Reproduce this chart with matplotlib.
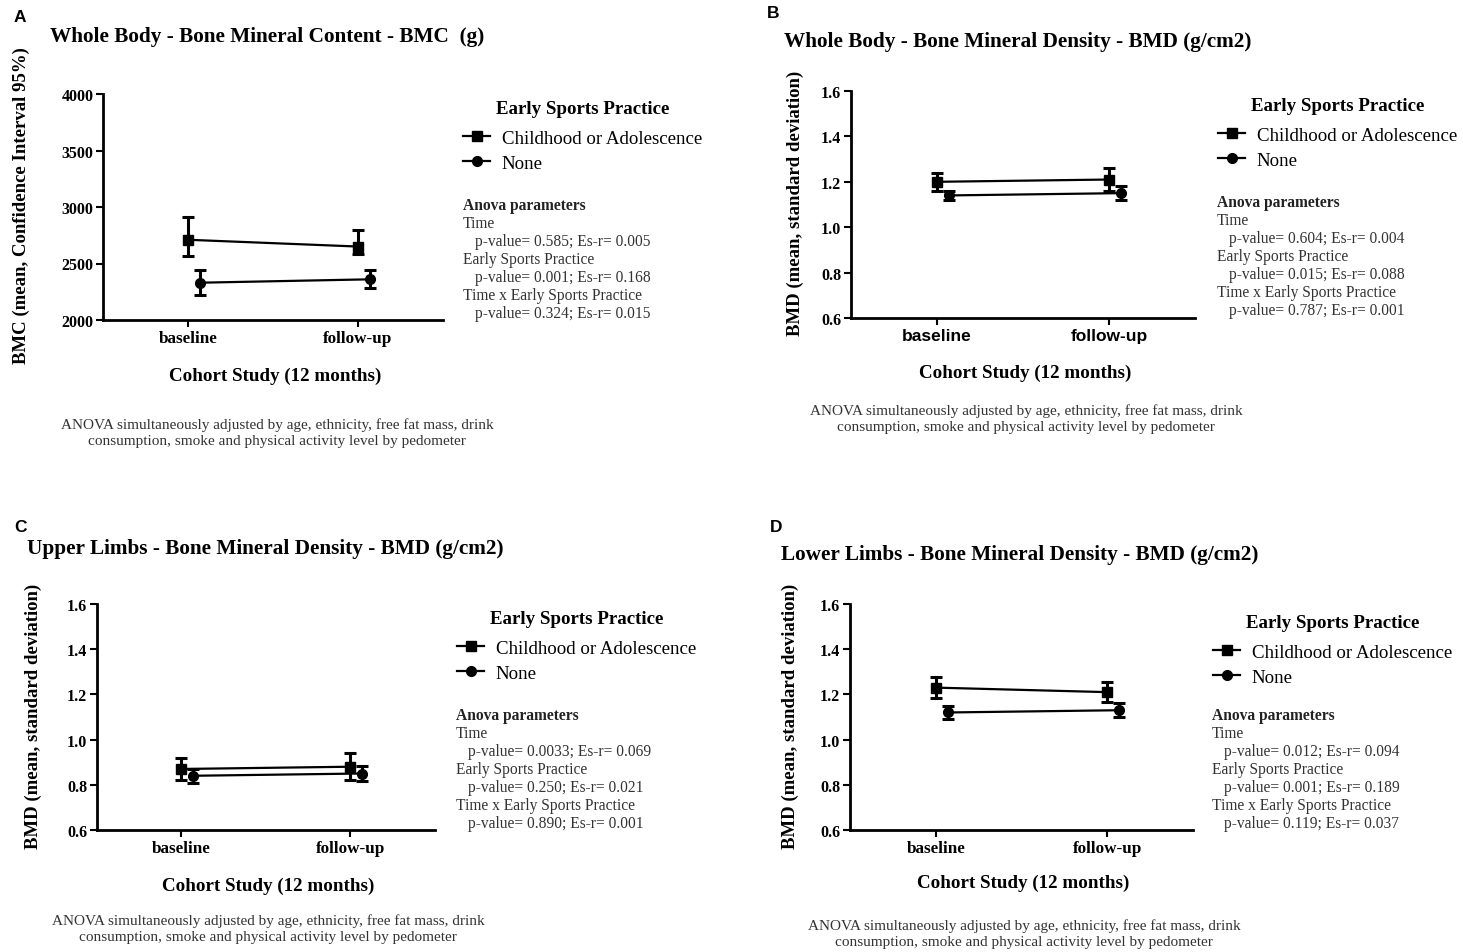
import matplotlib
matplotlib.use("Agg")
import matplotlib.pyplot as plt

# time points on the x axis
timepoints = ['baseline', 'follow-up']
groups = ['Childhood or Adolescence', 'None']

# A - whole body BMC (g): mean and 95% CI bounds
a_child_mean = [2710, 2650]
a_child_lo = [2565, 2580]
a_child_hi = [2915, 2800]
a_none_mean = [2330, 2360]
a_none_lo = [2220, 2280]
a_none_hi = [2440, 2440]

# B - whole body BMD (g/cm2): mean and SD
b_child_mean = [1.20, 1.21]
b_child_sd = [0.04, 0.05]
b_none_mean = [1.14, 1.15]
b_none_sd = [0.02, 0.03]

# C - upper limbs BMD
c_child_mean = [0.87, 0.88]
c_child_sd = [0.05, 0.06]
c_none_mean = [0.84, 0.85]
c_none_sd = [0.03, 0.035]

# D - lower limbs BMD
d_child_mean = [1.23, 1.21]
d_child_sd = [0.045, 0.045]
d_none_mean = [1.12, 1.13]
d_none_sd = [0.03, 0.03]

anova_a = ['p-value= 0.585; Es-r= 0.005', 'p-value= 0.001; Es-r= 0.168', 'p-value= 0.324; Es-r= 0.015']
anova_b = ['p-value= 0.604; Es-r= 0.004', 'p-value= 0.015; Es-r= 0.088', 'p-value= 0.787; Es-r= 0.001']
anova_c = ['p-value= 0.0033; Es-r= 0.069', 'p-value= 0.250; Es-r= 0.021', 'p-value= 0.890; Es-r= 0.001']
anova_d = ['p-value= 0.012; Es-r= 0.094', 'p-value= 0.001; Es-r= 0.189', 'p-value= 0.119; Es-r= 0.037']

footnote = ('ANOVA simultaneously adjusted by age, ethnicity, free fat mass, drink\n'
            'consumption, smoke and physical activity level by pedometer')

W, H = 1463, 953
SERIF = 'Liberation Serif'
SANS = 'Liberation Sans'

fig = plt.figure(figsize=(W / 100, H / 100), dpi=100)
fig.patch.set_facecolor('white')


def px(x, y):
    return x / W, 1 - y / H


def panel(letter, letter_xy, title, title_xy, box, ylim, yticks, yfmt, ylabel, ylabel_x,
          xlabel_y, foot_xy, child, none, legend_xy, anova_xy, anova, sans_xticks=False):
    left, top, right, bottom = box
    ax = fig.add_axes([left / W, 1 - bottom / H, (right - left) / W, (bottom - top) / H])
    off = 0.07
    x0 = [0, 1]
    x1 = [v + off for v in x0]
    mean_c, err_c = child
    mean_n, err_n = none
    kw = dict(color='black', lw=1.6, elinewidth=2.2, capsize=4.5, capthick=2.2, markersize=7)
    ec = ax.errorbar(x0, mean_c, yerr=err_c, marker='s', **kw)
    en = ax.errorbar(x1, mean_n, yerr=err_n, marker='o', **kw)

    ax.set_xlim(-0.5, 1.5)
    ax.set_ylim(*ylim)
    ax.set_yticks(yticks)
    ax.set_yticklabels([yfmt(v) for v in yticks], family=SERIF, fontweight='bold', fontsize=11.5)
    ax.set_xticks(x0)
    if sans_xticks:
        ax.set_xticklabels(timepoints, family=SANS, fontweight='bold', fontsize=12.5)
    else:
        ax.set_xticklabels(timepoints, family=SERIF, fontweight='bold', fontsize=12.3)
    for s in ['top', 'right']:
        ax.spines[s].set_visible(False)
    for s in ['left', 'bottom']:
        ax.spines[s].set_linewidth(2)
    ax.tick_params(direction='out', length=5, width=1.5, pad=2)
    ax.set_facecolor('none')

    cx = (left + right) / 2
    fig.text(*px(*letter_xy), letter, family=SANS, fontweight='bold', fontsize=12.5, va='center')
    fig.text(*px(*title_xy), title, family=SERIF, fontweight='bold', fontsize=15.3, va='center')
    fig.text(*px(ylabel_x, (top + bottom) / 2 - 2), ylabel, family=SERIF, fontweight='bold',
             fontsize=13.5, rotation=90, ha='center', va='center')
    fig.text(*px(cx + 2, xlabel_y), 'Cohort Study (12 months)', family=SERIF, fontweight='bold',
             fontsize=13.7, ha='center', va='center')
    fig.text(*px(*foot_xy), footnote, family=SERIF, fontsize=11, ha='center', va='center',
             color='#333333', linespacing=1.3)

    leg = ax.legend([ec[0], en[0]], groups, title='Early Sports Practice', loc='upper left',
                    bbox_to_anchor=px(*legend_xy), bbox_transform=fig.transFigure,
                    frameon=False, borderpad=0, handlelength=1.43, handletextpad=0.63,
                    labelspacing=0.42, borderaxespad=0, prop={'family': SERIF, 'size': 13.6},
                    title_fontproperties={'family': SERIF, 'weight': 'bold', 'size': 13.6})
    leg._legend_box.sep = 9

    ax_x, ay = anova_xy
    heads = ['Time', 'Early Sports Practice', 'Time x Early Sports Practice']
    fig.text(*px(ax_x, ay), 'Anova parameters', family=SERIF, fontweight='bold', fontsize=11.2,
             va='center', color='#222222')
    y = ay
    for head, val in zip(heads, anova):
        y += 18
        fig.text(*px(ax_x, y), head, family=SERIF, fontsize=11.2, va='center', color='#333333')
        y += 18
        fig.text(*px(ax_x + 12, y), val, family=SERIF, fontsize=11.2, va='center', color='#333333')
    return ax


def bounds(mean, lo, hi):
    return mean, [[m - l for m, l in zip(mean, lo)], [h - m for m, h in zip(mean, hi)]]


bmd_ticks = [0.6, 0.8, 1.0, 1.2, 1.4, 1.6]
bmd_fmt = lambda v: f'{v:.1f}'

panel('A', (14, 18), 'Whole Body - Bone Mineral Content - BMC  (g)', (50, 37),
      (103, 95, 443, 321), (2000, 4000), [2000, 2500, 3000, 3500, 4000], lambda v: f'{v}',
      'BMC (mean, Confidence Interval 95%)', 21, 376, (277, 433),
      bounds(a_child_mean, a_child_lo, a_child_hi), bounds(a_none_mean, a_none_lo, a_none_hi),
      (463, 101), (463, 206), anova_a)

panel('B', (767, 14), 'Whole Body - Bone Mineral Density - BMD (g/cm2)', (784, 42),
      (851, 92, 1195, 319), (0.6, 1.6), bmd_ticks, bmd_fmt,
      'BMD (mean, standard deviation)', 795, 373, (1026, 419),
      (b_child_mean, b_child_sd), (b_none_mean, b_none_sd),
      (1218, 98), (1217, 203), anova_b, sans_xticks=True)

panel('C', (14, 527), 'Upper Limbs - Bone Mineral Density - BMD (g/cm2)', (27, 549),
      (97, 605, 435, 831), (0.6, 1.6), bmd_ticks, bmd_fmt,
      'BMD (mean, standard deviation)', 33, 886, (268, 929),
      (c_child_mean, c_child_sd), (c_none_mean, c_none_sd),
      (457, 611), (456, 716), anova_c)

panel('D', (770, 527), 'Lower Limbs - Bone Mineral Density - BMD (g/cm2)', (781, 555),
      (850, 605, 1193, 831), (0.6, 1.6), bmd_ticks, bmd_fmt,
      'BMD (mean, standard deviation)', 790, 883, (1024, 934),
      (d_child_mean, d_child_sd), (d_none_mean, d_none_sd),
      (1213, 615), (1212, 716), anova_d)

fig.savefig('out.png', dpi=100, facecolor='white')
